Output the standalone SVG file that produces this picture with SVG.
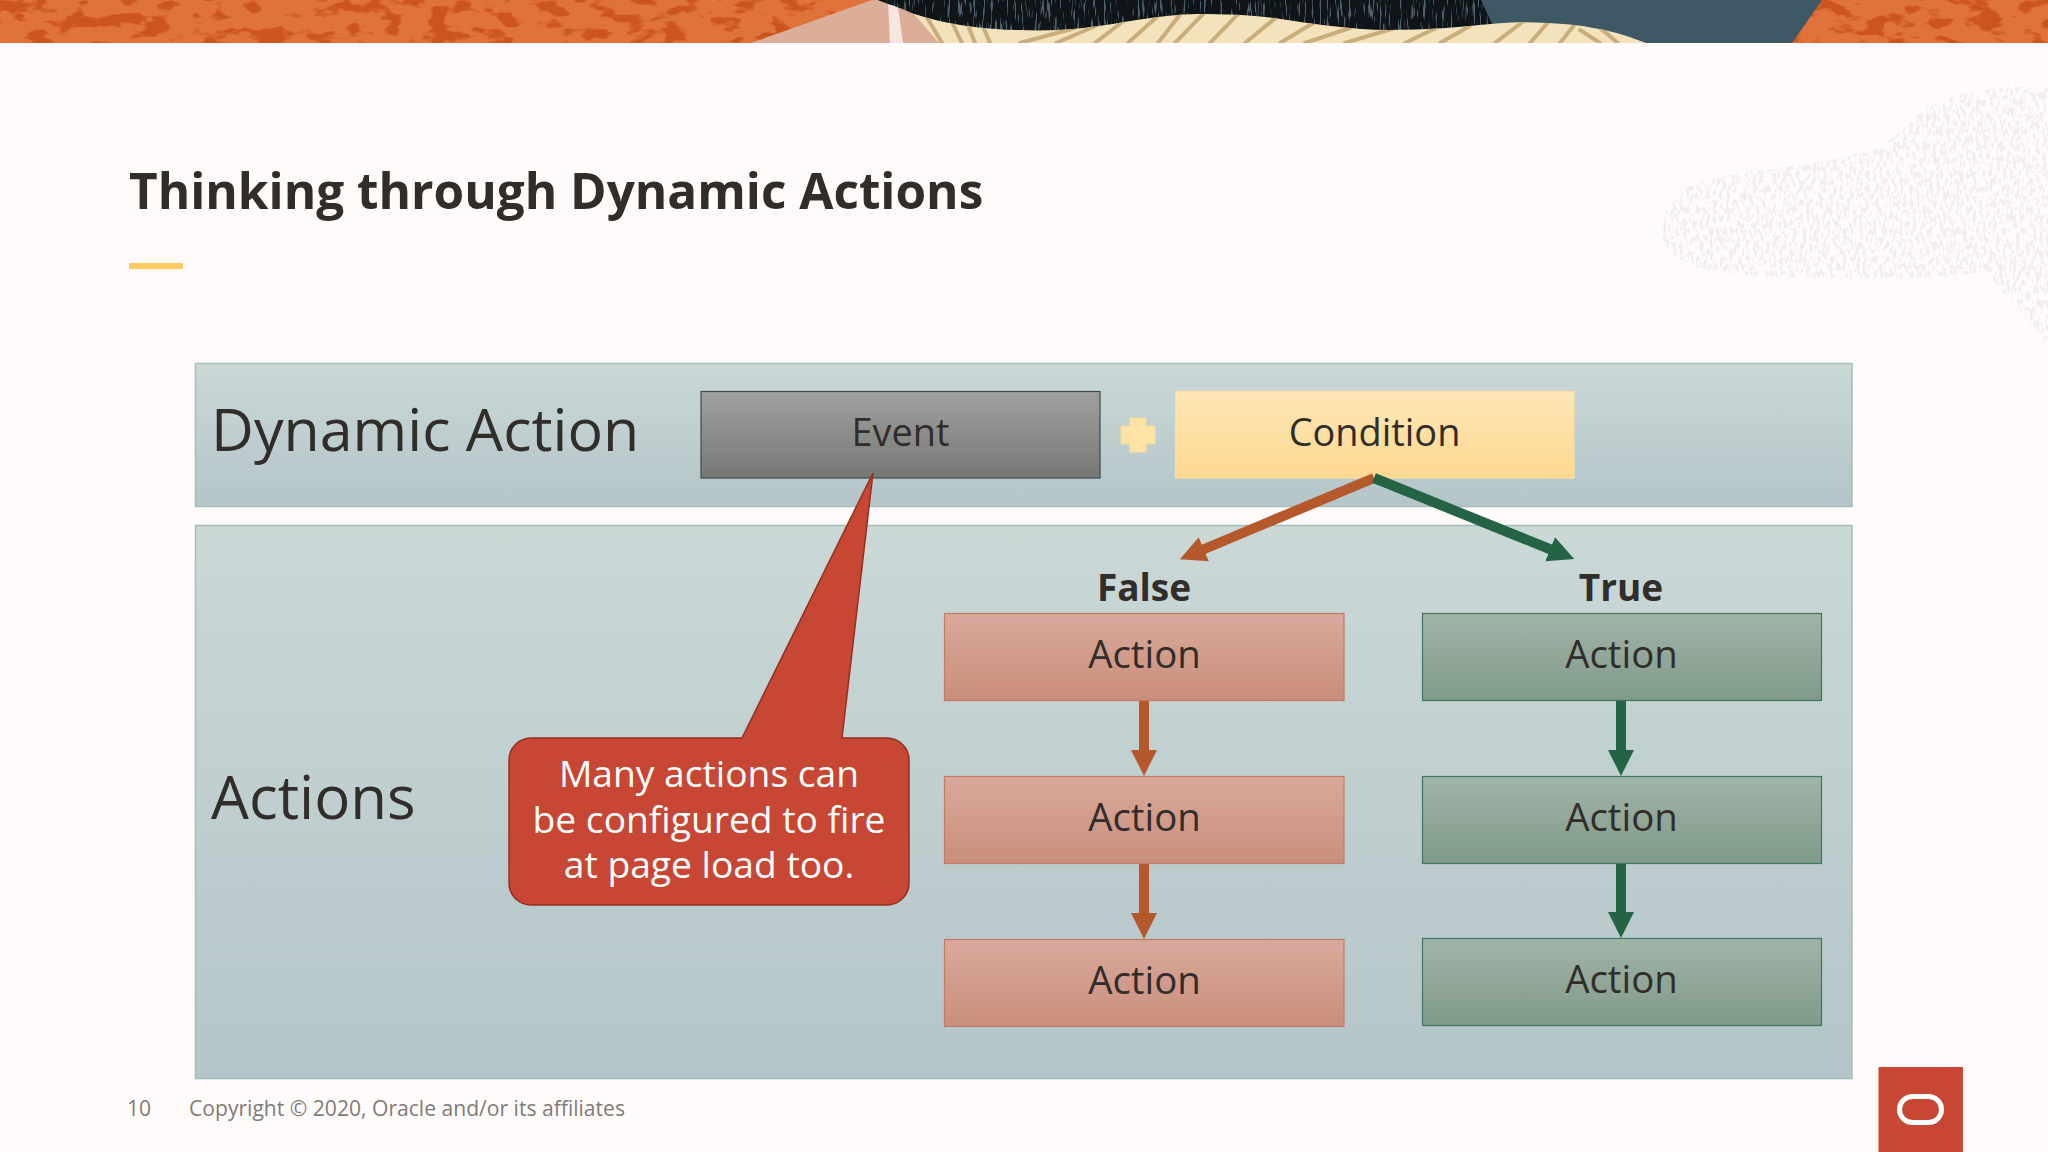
<svg xmlns="http://www.w3.org/2000/svg" width="2048" height="1152" viewBox="0 0 2048 1152">
<style>
text{font-family:"Open Sans","Noto Sans","Liberation Sans",sans-serif;fill:#312d2a}
.c{text-anchor:middle}
.lbl{font-size:38.4px}
.lbl2{font-size:37.900px}
.big{font-size:59.100px}
.hdr{font-size:37px;font-weight:700}
.call{font-size:37.200px;fill:#fff}
.foot{font-size:21.100px;fill:#7f7b78}
.panel{fill:url(#gPanel);stroke:#a6bdb9;stroke-width:1.5}
.f{fill:url(#gFalse);stroke:#c47a62;stroke-width:1.2}
.t{fill:url(#gTrue);stroke:#3f7560;stroke-width:1.2}
.oa{stroke:#b5582b;stroke-width:10;fill:none}
.ga{stroke:#246344;stroke-width:10;fill:none}
.st{stroke:#c9ad7b;fill:none;stroke-linecap:round}
</style>
<defs>
<linearGradient id="gPanel" x1="0" y1="0" x2="0" y2="1"><stop offset="0" stop-color="#cad8d6"/><stop offset="1" stop-color="#b4c5c9"/></linearGradient>
<linearGradient id="gEvent" x1="0" y1="0" x2="0" y2="1"><stop offset="0" stop-color="#a0a09e"/><stop offset="1" stop-color="#777876"/></linearGradient>
<linearGradient id="gCond" x1="0" y1="0" x2="0" y2="1"><stop offset="0" stop-color="#fde7b6"/><stop offset="1" stop-color="#fdd88f"/></linearGradient>
<linearGradient id="gFalse" x1="0" y1="0" x2="0" y2="1"><stop offset="0" stop-color="#d9a99b"/><stop offset="1" stop-color="#c98e7c"/></linearGradient>
<linearGradient id="gTrue" x1="0" y1="0" x2="0" y2="1"><stop offset="0" stop-color="#a1b4a8"/><stop offset="1" stop-color="#809a88"/></linearGradient>
<marker id="mO" markerUnits="userSpaceOnUse" markerWidth="28" markerHeight="28" refX="2" refY="14" orient="auto"><path d="M0 1L26 14L0 27Z" fill="#b5582b"/></marker>
<marker id="mG" markerUnits="userSpaceOnUse" markerWidth="28" markerHeight="28" refX="2" refY="14" orient="auto"><path d="M0 1L26 14L0 27Z" fill="#246344"/></marker>
<filter id="fBlotch" x="0" y="0" width="1" height="1" color-interpolation-filters="sRGB"><feTurbulence type="fractalNoise" baseFrequency=".035 .07" numOctaves="3" seed="4"/><feColorMatrix values="0 0 0 0 .80  0 0 0 0 .33  0 0 0 0 .12  0 0 9 0 -4.700"/></filter>
<filter id="fFleck" x="0" y="0" width="1" height="1" color-interpolation-filters="sRGB"><feTurbulence type="fractalNoise" baseFrequency=".45 .05" numOctaves="2" seed="7"/><feColorMatrix values="0 0 0 0 .30  0 0 0 0 .38  0 0 0 0 .42  0 0 8 0 -4.600"/></filter>
<filter id="fBlob" x="0" y="0" width="1" height="1" color-interpolation-filters="sRGB"><feTurbulence type="fractalNoise" baseFrequency=".3 .14" numOctaves="2" seed="11"/><feColorMatrix values="0 0 0 0 .945  0 0 0 0 .935  0 0 0 0 .93  0 0 10 0 -4.900"/></filter>
<clipPath id="cBlob"><path d="M2048 88C2030 86 2010 86 1998 88C1965 92 1935 100 1920 112C1900 135 1885 150 1830 160C1790 168 1740 172 1698 182C1672 194 1658 215 1663 240C1672 262 1700 272 1760 276C1840 280 1920 280 1985 272C2005 290 2025 320 2048 342Z"/></clipPath>
<clipPath id="cCream"><path d="M914 14C945 24 985 30 1019 30C1045 31 1065 30 1083 28C1120 24 1160 14 1197 14C1225 14 1250 15 1274 18C1315 24 1350 30 1389 30C1425 30 1460 27 1491 24C1510 22 1530 22 1548 23C1570 24 1585 26 1593 28C1615 31 1632 38 1646 43H939Z"/></clipPath>
<clipPath id="cDark"><path d="M878 0H1481L1493 26L1389 32L1274 20L1197 16L1083 30L1019 32C975 31 930 22 905 10C895 6 885 3 878 0Z"/></clipPath>
</defs>
<rect id="background" width="2048" height="1152" fill="#fffbfb"/>
<g id="banner">
<rect width="2048" height="43" fill="#df7339"/>
<rect x="0" y="0" width="880" height="43" filter="url(#fBlotch)"/>
<rect x="1790" y="0" width="258" height="43" filter="url(#fBlotch)"/>
<path d="M872 0L751 43H960V0Z" fill="#dcae9a"/>
<path d="M888 0H897L903 43H890Z" fill="#f7e6df"/>
<path d="M1470 0H1822L1792 43H1640L1470 30Z" fill="#3f5866"/>
<path d="M878 0H1481L1493 26L1389 32L1274 20L1197 16L1083 30L1019 32C975 31 930 22 905 10C895 6 885 3 878 0Z" fill="#0e1417"/>
<g clip-path="url(#cDark)"><rect x="878" y="0" width="620" height="34" filter="url(#fFleck)"/></g>
<path d="M914 14C945 24 985 30 1019 30C1045 31 1065 30 1083 28C1120 24 1160 14 1197 14C1225 14 1250 15 1274 18C1315 24 1350 30 1389 30C1425 30 1460 27 1491 24C1510 22 1530 22 1548 23C1570 24 1585 26 1593 28C1615 31 1632 38 1646 43H939Z" fill="#f3e3bc"/>
<g clip-path="url(#cCream)">
<path class="st" stroke-width="4" d="M925 14L942 43M950 18L962 43M966 20L975 43M982 24L990 43M1020 43L1075 28M1056 43L1100 24M1095 43L1130 16M1128 43L1160 14M1158 43L1182 12M1175 43L1205 12M1210 43L1240 12M1245 43L1278 16M1280 43L1315 22M1305 43L1350 28M1345 43L1395 28M1405 43L1440 26M1440 43L1470 26M1495 43L1525 20M1530 43L1550 20M1560 43L1575 24M1580 30L1600 43M1600 28L1618 43"/>
</g>
</g>
<g id="watermark" clip-path="url(#cBlob)"><rect x="1655" y="84" width="393" height="260" filter="url(#fBlob)"/></g>
<g id="title">
<text x="129" y="209" style="font-size:49.500px;font-weight:700">Thinking through Dynamic Actions</text>
<rect x="129" y="263" width="54" height="6" fill="#fbca60"/>
</g>
<g id="panel-dynamic-action"><rect class="panel" x="195.500" y="363.500" width="1656.500" height="143"/><text class="big" x="211" y="451">Dynamic Action</text></g>
<g id="panel-actions"><rect class="panel" x="195.500" y="525.500" width="1656.500" height="553"/><text x="211" y="819" style="font-size:60px">Actions</text></g>
<g id="event"><rect x="701" y="391.500" width="399" height="86.500" fill="url(#gEvent)" stroke="#3f4a4d" stroke-width="1.200"/><text class="lbl2 c" x="900.500" y="446">Event</text></g>
<path id="plus" d="M1130 418H1146V426H1155V444H1146V452H1130V444H1121V426H1130Z" fill="#fde3a6" stroke="#fcdc98" stroke-linejoin="round" stroke-width="1"/>
<g id="condition"><rect x="1175.500" y="391.500" width="398.500" height="86.500" fill="url(#gCond)" stroke="#fcdf9c" stroke-width="1.200"/><text class="lbl2 c" x="1374.500" y="446">Condition</text></g>
<g id="callout"><path d="M531 738H742L873 473L842 738H887A22 22 0 0 1 909 760V883A22 22 0 0 1 887 905H531A22 22 0 0 1 509 883V760A22 22 0 0 1 531 738Z" fill="#c74634" stroke="#94301f" stroke-width="1.500"/>
<text class="call c" x="709" y="787">Many actions can</text><text class="call c" x="709" y="833">be configured to fire</text><text class="call c" x="709" y="878">at page load too.</text></g>
<text id="label-false" class="hdr c" x="1144" y="601">False</text>
<text id="label-true" class="hdr c" x="1621" y="601">True</text>
<g id="false-1"><rect class="f" x="944.500" y="613.500" width="399.500" height="87"/><text class="lbl c" x="1144.500" y="668">Action</text></g>
<g id="false-2"><rect class="f" x="944.500" y="776.500" width="399.500" height="87"/><text class="lbl c" x="1144.500" y="831">Action</text></g>
<g id="false-3"><rect class="f" x="944.500" y="939.500" width="399.500" height="87"/><text class="lbl c" x="1144.500" y="994">Action</text></g>
<g id="true-1"><rect class="t" x="1422.500" y="613.500" width="399" height="87"/><text class="lbl c" x="1621.500" y="668">Action</text></g>
<g id="true-2"><rect class="t" x="1422.500" y="776.500" width="399" height="87"/><text class="lbl c" x="1621.500" y="831">Action</text></g>
<g id="true-3"><rect class="t" x="1422.500" y="938.500" width="399" height="87"/><text class="lbl c" x="1621.500" y="993">Action</text></g>
<g id="connectors">
<path class="oa" d="M1374 478L1202 550" marker-end="url(#mO)"/>
<path class="ga" d="M1374 478L1552 550" marker-end="url(#mG)"/>
<path class="oa" d="M1144 701V752" marker-end="url(#mO)"/>
<path class="oa" d="M1144 864V915" marker-end="url(#mO)"/>
<path class="ga" d="M1621 701V752" marker-end="url(#mG)"/>
<path class="ga" d="M1621 864V914" marker-end="url(#mG)"/>
</g>
<g id="footer"><text class="foot" x="127" y="1116">10</text><text class="foot" x="189" y="1116">Copyright © 2020, Oracle and/or its affiliates</text></g>
<g id="logo"><rect x="1878.500" y="1067" width="84.500" height="85" fill="#c74634"/><rect x="1899.500" y="1096.500" width="42" height="26" rx="13" fill="none" stroke="#fff" stroke-width="5"/></g>
</svg>
